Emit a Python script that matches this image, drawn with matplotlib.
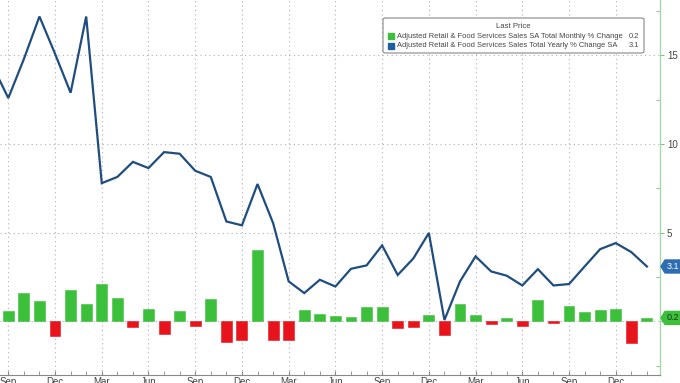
import numpy as np
import matplotlib
matplotlib.use("Agg")
import matplotlib.pyplot as plt
from matplotlib.patches import Rectangle, FancyBboxPatch, Polygon

# Months: Aug 2021 .. Feb 2025 (index 0 = Sep 2021)
month_idx = list(range(-1, 42))
quarter_labels = ["Sep", "Dec", "Mar", "Jun"] * 4
quarter_labels = quarter_labels[:14]
quarter_pos = list(range(0, 40, 3))

# Monthly % change (Aug 2021 not visible)
mom = [np.nan,
       0.58, 1.62, 1.14, -0.81,
       1.80, 0.99, 2.10, 1.33, -0.32, 0.69, -0.68, 0.58, -0.26, 1.24, -1.17, -1.05,
       4.02, -1.07, -1.07, 0.64, 0.41, 0.30, 0.24, 0.79, 0.82, -0.38, -0.30, 0.36,
       -0.79, 0.98, 0.39, -0.15, 0.22, -0.26, 1.20, -0.11, 0.88, 0.54, 0.64, 0.70,
       -1.20, 0.20]

# Yearly % change
yoy = [14.4,
       12.6, 14.8, 17.2, 15.1,
       12.9, 17.2, 7.8, 8.15, 9.0, 8.65, 9.55, 9.46, 8.5, 8.15, 5.64, 5.42,
       7.75, 5.55, 2.26, 1.6, 2.35, 1.97, 2.97, 3.16, 4.29, 2.62, 3.55, 4.99,
       0.08, 2.26, 3.67, 2.82, 2.58, 2.03, 2.95, 2.03, 2.11, 3.1, 4.08, 4.42,
       3.91, 3.1]

legend_title = "Last Price"
legend_names = ["Adjusted Retail & Food Services Sales SA Total Monthly % Change",
                "Adjusted Retail & Food Services Sales Total Yearly % Change SA"]
last_mom = "0.2"
last_yoy = "3.1"

GREEN = "#3cc03c"
RED = "#e8141c"
BLUE = "#1f4d80"
TXT = "#444444"
FONT = ["Liberation Sans", "DejaVu Sans"]
plt.rcParams["font.family"] = FONT

W, H = 680, 383
fig = plt.figure(figsize=(W / 100, H / 100), dpi=100)
fig.patch.set_facecolor("white")
ax = fig.add_axes([0, 8 / H, 660 / W, 375 / H])
ax.set_facecolor("white")

x = np.array(month_idx, dtype=float)
m = np.array(mom, dtype=float)
colors = [GREEN if (not np.isnan(v) and v >= 0) else RED for v in m]
ax.bar(x, np.nan_to_num(m), width=0.7, color=colors, edgecolor=colors,
       linewidth=0.4, zorder=3)
ax.plot(x, yoy, color=BLUE, lw=1.6, zorder=4, solid_joinstyle="miter")

ax.set_xlim(-0.533, 41.84)
ax.set_ylim(-3.02, 18.13)

for s in ["left", "top"]:
    ax.spines[s].set_visible(False)
ax.spines["right"].set_color("#a8d8a8")
ax.spines["right"].set_linewidth(1.0)
ax.spines["bottom"].set_color("#888888")
ax.spines["bottom"].set_linewidth(0.8)

ax.yaxis.tick_right()
ax.set_yticks([0, 5, 10, 15])
ax.set_yticklabels(["", "5", "10", "15"])
ax.set_yticks([-2.5, 2.5, 7.5, 12.5, 17.5], minor=True)
ax.tick_params(axis="y", which="major", direction="out", length=3, pad=2,
               labelsize=7, labelcolor=TXT, color="#7fbf7f")
ax.tick_params(axis="y", which="minor", direction="in", length=3, color="#7fbf7f")

ax.set_xticks(quarter_pos)
ax.set_xticklabels(quarter_labels)
ax.set_xticks(list(range(0, 42)), minor=True)
ax.tick_params(axis="x", which="both", direction="in", length=3, pad=1.5,
               labelsize=7, labelcolor=TXT, color="#888888")

ax.grid(True, which="major", color="#b0b0b0", linestyle=(0, (1, 3)), lw=0.8, zorder=1)


def fx(px):
    return px / W


def fy(py):
    return 1 - py / H


# last value tags (pentagon pointing left at the axis)
def tag(value, text, fc, tc):
    disp = ax.transData.transform((0, value))
    yc = H - disp[1]
    pts = [(661, yc), (665, yc - 6.5), (680, yc - 6.5), (680, yc + 6.5), (665, yc + 6.5)]
    fig.patches.append(Polygon([(fx(a), fy(b)) for a, b in pts], closed=True,
                               transform=fig.transFigure, fc=fc, ec=fc, zorder=12))
    fig.text(fx(672.5), fy(yc), text, ha="center", va="center", fontsize=6.5,
             color=tc, zorder=13)


tag(yoy[-1], last_yoy, "#2f6db3", "white")
tag(mom[-1], last_mom, GREEN, "#1a3a1a")

# legend box
box = FancyBboxPatch((fx(383), fy(53)), fx(644) - fx(383), fy(18) - fy(53),
                     boxstyle="round,pad=0,rounding_size=0.004",
                     transform=fig.transFigure, fc="white", ec="#888888",
                     lw=0.8, zorder=10)
fig.patches.append(box)
fig.text(fx(513), fy(27), legend_title, ha="center", va="center",
         fontsize=5.6, color=TXT, zorder=11)
for yy, name, val, col in [(36, legend_names[0], last_mom, GREEN),
                           (45.5, legend_names[1], last_yoy, "#2060a0")]:
    fig.patches.append(Rectangle((fx(388), fy(yy + 3)), fx(6), 6 / H,
                                 transform=fig.transFigure, fc=col, ec=col,
                                 zorder=11))
    fig.text(fx(397), fy(yy), name, ha="left", va="center", fontsize=5.4,
             color=TXT, zorder=11)
    fig.text(fx(639), fy(yy), val, ha="right", va="center", fontsize=5.4,
             color=TXT, zorder=11)

fig.savefig("out.png", dpi=100, facecolor="white")
